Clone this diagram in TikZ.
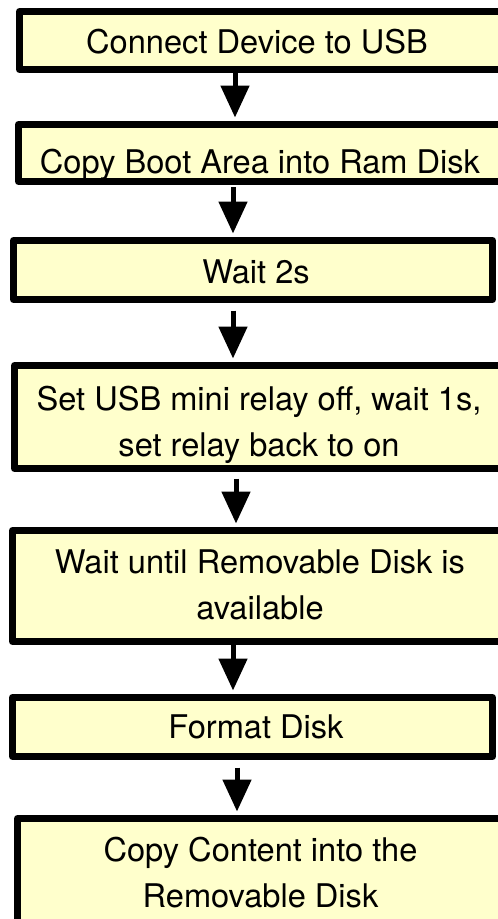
\documentclass[tikz,border=0pt]{standalone}
\usepackage{fontspec}
\setmainfont{TeX Gyre Heros}
\usetikzlibrary{arrows.meta,positioning}
\definecolor{stepyellow}{RGB}{255,255,204}

\tikzset{
  stepbox/.style={draw=black, fill=stepyellow, line width=7pt, line join=round, inner sep=0pt},
  steptext/.style={inner sep=0pt, font=\fontsize{32.6}{46}\selectfont, align=center},
  flow/.style={line width=5pt, -{Triangle[width=28pt,length=32pt]}, shorten >=3.5pt}
}

\begin{document}
\begin{tikzpicture}[x=1pt,y=-1pt]
    \useasboundingbox (0,0) rectangle (498,919);
    \clip (0,0) rectangle (498,919);

    % Boxes
    \node[stepbox, minimum width=489, minimum height=58] (connect) at (264,40.5) {};
    \node[stepbox, minimum width=490, minimum height=57] (copyboot) at (263.5,153) {};
    \node[stepbox, minimum width=479, minimum height=59] (waittwo) at (253,270) {};
    \node[stepbox, minimum width=494, minimum height=103] (relay) at (261.5,417) {};
    \node[stepbox, minimum width=496, minimum height=111] (waitdisk) at (260.5,586) {};
    \node[stepbox, minimum width=480, minimum height=59] (format) at (252.5,727) {};
    \node[stepbox, minimum width=491, minimum height=107] (copycontent) at (263,872) {};

    % Texts
    \node[steptext, anchor=base] (tconnect) at (257,53) {Connect Device to USB};
    \node[steptext, anchor=base] (tcopyboot) at (260,173) {Copy Boot Area into Ram Disk};
    \node[steptext, anchor=base] (twaittwo) at (256,283) {Wait 2s};
    \node[steptext] (trelay) at (259,424.7) {Set USB mini relay off, wait 1s,\\set relay back to on};
    \node[steptext] (twaitdisk) at (260,585.3) {Wait until Removable Disk is\\available};
    \node[steptext, anchor=base] (tformat) at (256,738) {Format Disk};
    \node[steptext] (tcopycontent) at (260.5,872.3) {Copy Content into the\\Removable Disk};

    % Flow
    \draw[flow] (235,0 |- connect.south) -- (235,0 |- copyboot.north);
    \draw[flow, shorten <=2pt] (233,0 |- copyboot.south) -- (233,0 |- waittwo.north);
    \draw[flow, shorten <=7.5pt] (233,0 |- waittwo.south) -- (233,0 |- relay.north);
    \draw[flow, shorten <=6.5pt] (236,0 |- relay.south) -- (236,0 |- waitdisk.north);
    \draw[flow] (233,0 |- waitdisk.south) -- (233,0 |- format.north);
    \draw[flow, shorten <=7.5pt] (237,0 |- format.south) -- (237,0 |- copycontent.north);
\end{tikzpicture}
\end{document}
